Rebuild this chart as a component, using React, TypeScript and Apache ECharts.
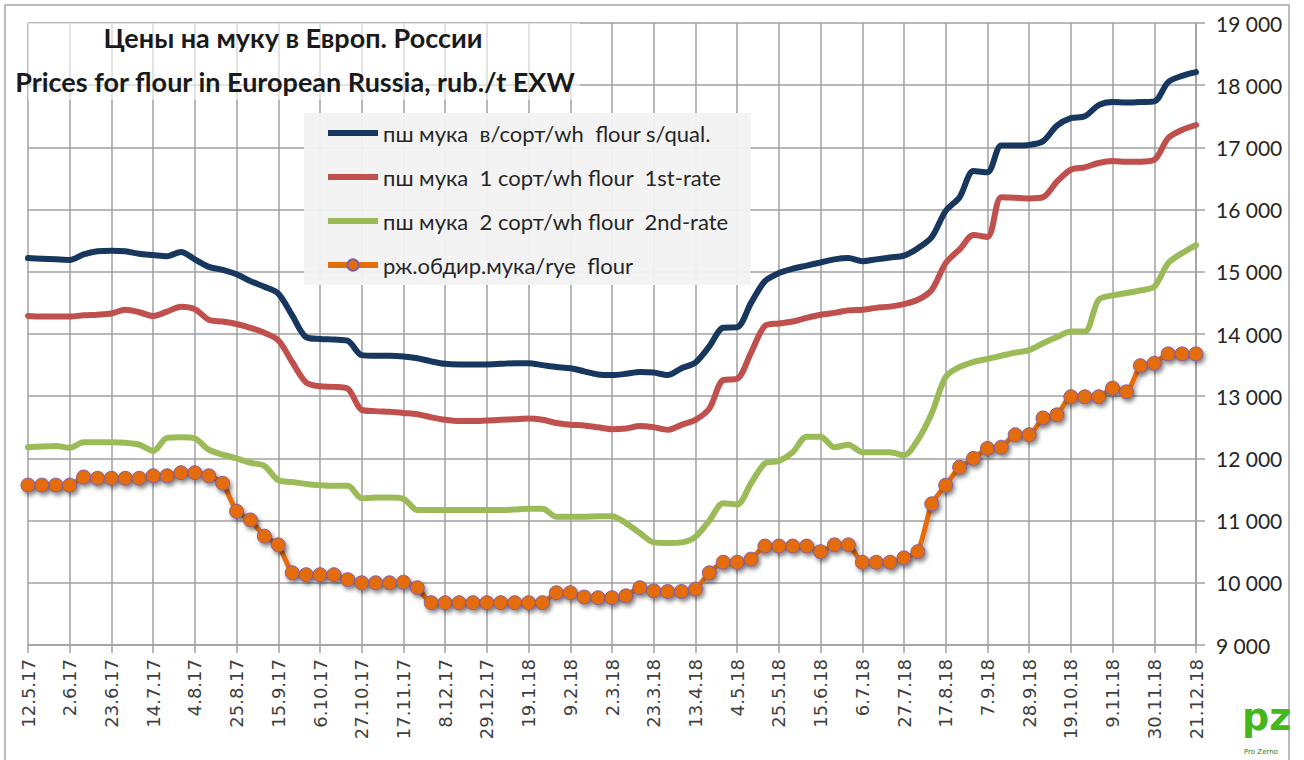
import React, { useEffect, useRef } from "react";
import * as echarts from "echarts";

const dates = [
  "12.5.17","19.5.17","26.5.17","2.6.17","9.6.17","16.6.17","23.6.17","30.6.17","7.7.17","14.7.17",
  "21.7.17","28.7.17","4.8.17","11.8.17","18.8.17","25.8.17","1.9.17","8.9.17","15.9.17","22.9.17",
  "29.9.17","6.10.17","13.10.17","20.10.17","27.10.17","3.11.17","10.11.17","17.11.17","24.11.17","1.12.17",
  "8.12.17","15.12.17","22.12.17","29.12.17","5.1.18","12.1.18","19.1.18","26.1.18","2.2.18","9.2.18",
  "16.2.18","23.2.18","2.3.18","9.3.18","16.3.18","23.3.18","30.3.18","6.4.18","13.4.18","20.4.18",
  "27.4.18","4.5.18","11.5.18","18.5.18","25.5.18","1.6.18","8.6.18","15.6.18","22.6.18","29.6.18",
  "6.7.18","13.7.18","20.7.18","27.7.18","3.8.18","10.8.18","17.8.18","24.8.18","31.8.18","7.9.18",
  "14.9.18","21.9.18","28.9.18","5.10.18","12.10.18","19.10.18","26.10.18","2.11.18","9.11.18","16.11.18",
  "23.11.18","30.11.18","7.12.18","14.12.18","21.12.18",
];

const seriesNames = [
  "пш мука  в/сорт/wh  flour s/qual.",
  "пш мука  1 сорт/wh flour  1st-rate",
  "пш мука  2 сорт/wh flour  2nd-rate",
  "рж.обдир.мука/rye  flour",
];

const premium = [
  15220,15210,15200,15190,15280,15330,15340,15330,15290,15270,
  15250,15320,15200,15080,15030,14960,14850,14760,14650,14300,
  13950,13920,13910,13890,13660,13650,13650,13640,13610,13560,
  13520,13510,13510,13510,13520,13530,13530,13500,13470,13450,
  13400,13350,13340,13360,13390,13380,13340,13450,13540,13800,
  14100,14110,14500,14850,14980,15050,15100,15150,15200,15220,
  15170,15200,15230,15260,15380,15560,15980,16200,16620,16600,
  17030,17030,17040,17100,17350,17470,17500,17680,17730,17720,
  17730,17740,18050,18150,18210,
];

const firstRate = [
  14290,14280,14280,14280,14300,14310,14330,14390,14350,14290,
  14360,14440,14400,14230,14200,14160,14100,14020,13900,13550,
  13220,13160,13150,13120,12780,12760,12750,12730,12710,12660,
  12620,12600,12600,12610,12620,12630,12640,12620,12570,12540,
  12530,12500,12470,12480,12520,12500,12460,12540,12620,12800,
  13260,13280,13700,14130,14170,14200,14260,14310,14340,14380,
  14390,14420,14440,14480,14550,14710,15140,15360,15590,15560,
  16200,16190,16180,16200,16450,16640,16680,16750,16780,16770,
  16770,16800,17150,17280,17360,
];

const secondRate = [
  12180,12190,12200,12170,12260,12260,12260,12250,12220,12120,
  12330,12340,12320,12140,12060,12000,11930,11880,11650,11620,
  11590,11570,11560,11560,11360,11370,11370,11350,11170,11170,
  11170,11170,11170,11170,11170,11180,11190,11190,11060,11060,
  11060,11070,11070,10960,10800,10650,10640,10650,10740,11000,
  11280,11260,11600,11920,11960,12100,12350,12350,12180,12220,
  12100,12100,12100,12050,12300,12730,13310,13470,13550,13600,
  13650,13700,13740,13850,13950,14040,14040,14550,14620,14660,
  14700,14760,15140,15300,15430,
];

const rye = [
  11570,11570,11570,11570,11700,11680,11680,11680,11680,11720,
  11720,11770,11770,11720,11600,11150,11010,10750,10610,10160,
  10130,10130,10130,10050,10000,10000,10000,10010,9920,9680,
  9680,9680,9680,9680,9680,9680,9680,9680,9840,9840,
  9770,9760,9760,9790,9920,9870,9860,9860,9900,10160,
  10330,10330,10380,10590,10590,10590,10590,10500,10610,10610,
  10330,10330,10330,10400,10500,11270,11570,11860,12000,12160,
  12180,12380,12380,12650,12700,12990,12990,12990,13130,13070,
  13490,13530,13680,13680,13680,
];

const titleLines = [
  "Цены на муку в Европ. России",
  "Prices for flour in European Russia, rub./t EXW",
];

const colors = ["#17375E", "#C0504D", "#9BBB59", "#E46C0A"];

const barIcon = "path://M0,0 L100,0 L100,12 L0,12 Z";

export default function App() {
  const ref = useRef<HTMLDivElement>(null);
  useEffect(() => {
    if (!ref.current) return;
    const chart = echarts.init(ref.current, null, { renderer: "svg" });
    const lineSeries = (name: string, data: number[], color: string) => ({
      name,
      type: "line",
      data,
      smooth: 0.3,
      symbol: "none",
      lineStyle: { color, width: 6, cap: "round", join: "round" },
      itemStyle: { color },
      z: 3,
    });
    chart.setOption({
      animation: false,
      backgroundColor: "#ffffff",
      grid: { left: 28, right: 108, top: 23, bottom: 115 },
      legend: {
        orient: "vertical",
        left: 304,
        top: 113,
        padding: [9, 22, 9, 21],
        itemWidth: 50,
        itemHeight: 14,
        itemGap: 22,
        backgroundColor: "rgba(242,242,242,0.95)",
        textStyle: { fontFamily: "Lato", fontSize: 22, color: "#262626" },
        data: [
          { name: seriesNames[0], icon: barIcon },
          { name: seriesNames[1], icon: barIcon },
          { name: seriesNames[2], icon: barIcon },
          { name: seriesNames[3], lineStyle: { width: 6 } },
        ],
        z: 10,
      },
      xAxis: {
        type: "category",
        data: dates,
        boundaryGap: false,
        axisLine: { show: true, lineStyle: { color: "#a0a0a0", width: 1.5 } },
        axisTick: { show: true, interval: 2, length: 8, lineStyle: { color: "#a0a0a0", width: 1.5 } },
        splitLine: { show: true, interval: 2, lineStyle: { color: "#a0a0a0", width: 1.5 } },
        axisLabel: {
          interval: 2,
          rotate: 90,
          margin: 14,
          fontFamily: "DejaVu Sans",
          fontSize: 18,
          color: "#404040",
        },
      },
      yAxis: {
        type: "value",
        position: "right",
        min: 9000,
        max: 19000,
        interval: 1000,
        axisLine: { show: true, lineStyle: { color: "#a0a0a0", width: 1.5 } },
        axisTick: { show: true, length: 9, lineStyle: { color: "#a0a0a0", width: 1.5 } },
        splitLine: { show: true, lineStyle: { color: "#a0a0a0", width: 1.5 } },
        axisLabel: {
          margin: 20,
          fontFamily: "Lato",
          fontSize: 21,
          color: "#262626",
          formatter: (v: number) => String(v).replace(/\B(?=(\d{3})+(?!\d))/g, " "),
        },
      },
      graphic: [
        {
          type: "rect",
          shape: { x: 5, y: 5, width: 1284, height: 800 },
          style: { fill: "none", stroke: "#a6a6a6", lineWidth: 1.5 },
          z: 0,
          silent: true,
        },
        {
          type: "rect",
          shape: { x: 28, y: 23, width: 552, height: 77 },
          style: { fill: "rgba(255,255,255,0.6)" },
          z: 5,
          silent: true,
        },
        {
          type: "text",
          x: 293,
          y: 37,
          style: {
            text: titleLines[0],
            fontFamily: "Lato",
            fontWeight: "bold",
            fontSize: 27,
            fill: "#1a1a1a",
            align: "center",
            verticalAlign: "middle",
          },
          z: 6,
        },
        {
          type: "text",
          x: 295,
          y: 81,
          style: {
            text: titleLines[1],
            fontFamily: "Lato",
            fontWeight: "bold",
            fontSize: 27,
            fill: "#1a1a1a",
            align: "center",
            verticalAlign: "middle",
          },
          z: 6,
        },
        {
          type: "text",
          x: 1242,
          y: 698,
          style: {
            text: "pz",
            fontFamily: "DejaVu Sans",
            fontWeight: "bold",
            fontSize: 38,
            fill: "#44B81A",
            verticalAlign: "top",
          },
          z: 6,
        },
        {
          type: "text",
          x: 1244,
          y: 748,
          style: {
            text: "Pro Zerno",
            fontFamily: "DejaVu Sans",
            fontSize: 7,
            fill: "#2E7D14",
            verticalAlign: "top",
          },
          z: 7,
        },
      ],
      series: [
        lineSeries(seriesNames[0], premium, colors[0]),
        lineSeries(seriesNames[1], firstRate, colors[1]),
        lineSeries(seriesNames[2], secondRate, colors[2]),
        {
          name: seriesNames[3],
          type: "line",
          data: rye,
          smooth: 0.2,
          symbol: "circle",
          symbolSize: 14,
          showSymbol: true,
          showAllSymbol: true,
          lineStyle: {
            color: colors[3],
            width: 5,
            shadowColor: "rgba(0,0,0,0.3)",
            shadowBlur: 4,
            shadowOffsetX: 2,
            shadowOffsetY: 2,
          },
          itemStyle: {
            color: colors[3],
            borderColor: "#7F5FA8",
            borderWidth: 1,
            shadowColor: "rgba(0,0,0,0.45)",
            shadowBlur: 4,
            shadowOffsetX: 2,
            shadowOffsetY: 3,
          },
          z: 4,
        },
      ],
    });
    return () => chart.dispose();
  }, []);
  return (
    <div
      ref={ref}
      style={{ position: "fixed", left: 0, top: 0, width: 1304, height: 760 }}
    />
  );
}
